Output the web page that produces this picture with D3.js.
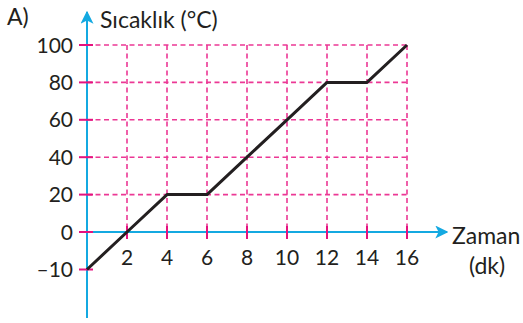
<!DOCTYPE html>
<html>
<head>
<meta charset="utf-8">
<script src="https://cdn.jsdelivr.net/npm/d3@7"></script>
<style>
  html, body { margin: 0; padding: 0; background: #fff; }
  svg { display: block; }
  text { font-family: Lato, "Open Sans", sans-serif; fill: #231f20; }
</style>
</head>
<body>
<svg id="chart" width="523" height="323"></svg>
<script>
// Heating curve: temperature (°C) against time (minutes)
const timeTicks = [2, 4, 6, 8, 10, 12, 14, 16];
const tempTicks = [-10, 0, 20, 40, 60, 80, 100];
const gridTemps = [20, 40, 60, 80, 100];
const times = [0, 2, 4, 6, 8, 10, 12, 14, 16];
const temps = [-10, 0, 20, 20, 40, 60, 80, 80, 100];

const svg = d3.select("#chart");
const axisBlue = "#14a9e1";
const gridPink = "#ec3895";
const tickPink = "#e5127f";

const x = d3.scaleLinear().domain([0, 16]).range([87, 407]);
// The -10 step sits one grid cell below zero, so the scale is piecewise.
const y = d3.scaleLinear().domain([-10, 0, 100]).range([269.5, 232, 45]);

// Dashed grid
const grid = svg.append("g")
  .attr("stroke", gridPink).attr("stroke-width", 1.6)
  .attr("stroke-dasharray", "5,3.5");
grid.selectAll("line.h").data(gridTemps).join("line")
  .attr("class", "h")
  .attr("x1", x(0)).attr("x2", x(16))
  .attr("y1", d => y(d)).attr("y2", d => y(d));
grid.selectAll("line.v").data(timeTicks).join("line")
  .attr("class", "v")
  .attr("x1", d => x(d)).attr("x2", d => x(d))
  .attr("y1", y(100)).attr("y2", y(0));

// Arrowhead
const defs = svg.append("defs");
defs.append("marker")
  .attr("id", "arrow").attr("viewBox", "0 0 10 10")
  .attr("refX", 9).attr("refY", 5)
  .attr("markerWidth", 13).attr("markerHeight", 13)
  .attr("markerUnits", "userSpaceOnUse")
  .attr("orient", "auto")
  .append("path")
  .attr("d", "M0,0 L10,5 L0,10 L2.5,5 Z")
  .attr("fill", axisBlue);

// Axes
svg.append("line")
  .attr("x1", x(0)).attr("x2", x(0))
  .attr("y1", 318).attr("y2", 12)
  .attr("stroke", axisBlue).attr("stroke-width", 2)
  .attr("marker-end", "url(#arrow)");
svg.append("line")
  .attr("x1", x(0)).attr("x2", 447)
  .attr("y1", y(0)).attr("y2", y(0))
  .attr("stroke", axisBlue).attr("stroke-width", 2)
  .attr("marker-end", "url(#arrow)");

// Tick marks
svg.append("g").selectAll("line").data(tempTicks).join("line")
  .attr("x1", 79).attr("x2", 93)
  .attr("y1", d => y(d)).attr("y2", d => y(d))
  .attr("stroke", tickPink).attr("stroke-width", 2);
svg.append("g").selectAll("line").data(timeTicks).join("line")
  .attr("x1", d => x(d)).attr("x2", d => x(d))
  .attr("y1", y(0) - 6).attr("y2", y(0) + 7)
  .attr("stroke", tickPink).attr("stroke-width", 2);

// Tick labels
svg.append("g").selectAll("text").data(tempTicks).join("text")
  .attr("x", 73).attr("y", d => y(d))
  .attr("dy", "0.36em")
  .attr("text-anchor", "end")
  .attr("font-size", 21)
  .text(d => d < 0 ? "\u2013" + Math.abs(d) : d);
svg.append("g").selectAll("text").data(timeTicks).join("text")
  .attr("x", d => x(d)).attr("y", 265)
  .attr("text-anchor", "middle")
  .attr("font-size", 21)
  .text(d => d);

// Data line
const line = d3.line().x((d, i) => x(times[i])).y(d => y(d));
svg.append("path")
  .datum(temps)
  .attr("d", line)
  .attr("fill", "none")
  .attr("stroke", "#231f20")
  .attr("stroke-width", 3)
  .attr("stroke-linejoin", "round");

// Titles
svg.append("text").attr("x", 7).attr("y", 25).attr("font-size", 23).text("A)");
svg.append("text").attr("x", 100).attr("y", 28).attr("font-size", 23).text("Sıcaklık (°C)");
svg.append("text").attr("x", 452).attr("y", 244).attr("font-size", 23).text("Zaman");
svg.append("text").attr("x", 487).attr("y", 274).attr("text-anchor", "middle").attr("font-size", 23).text("(dk)");
</script>
</body>
</html>
